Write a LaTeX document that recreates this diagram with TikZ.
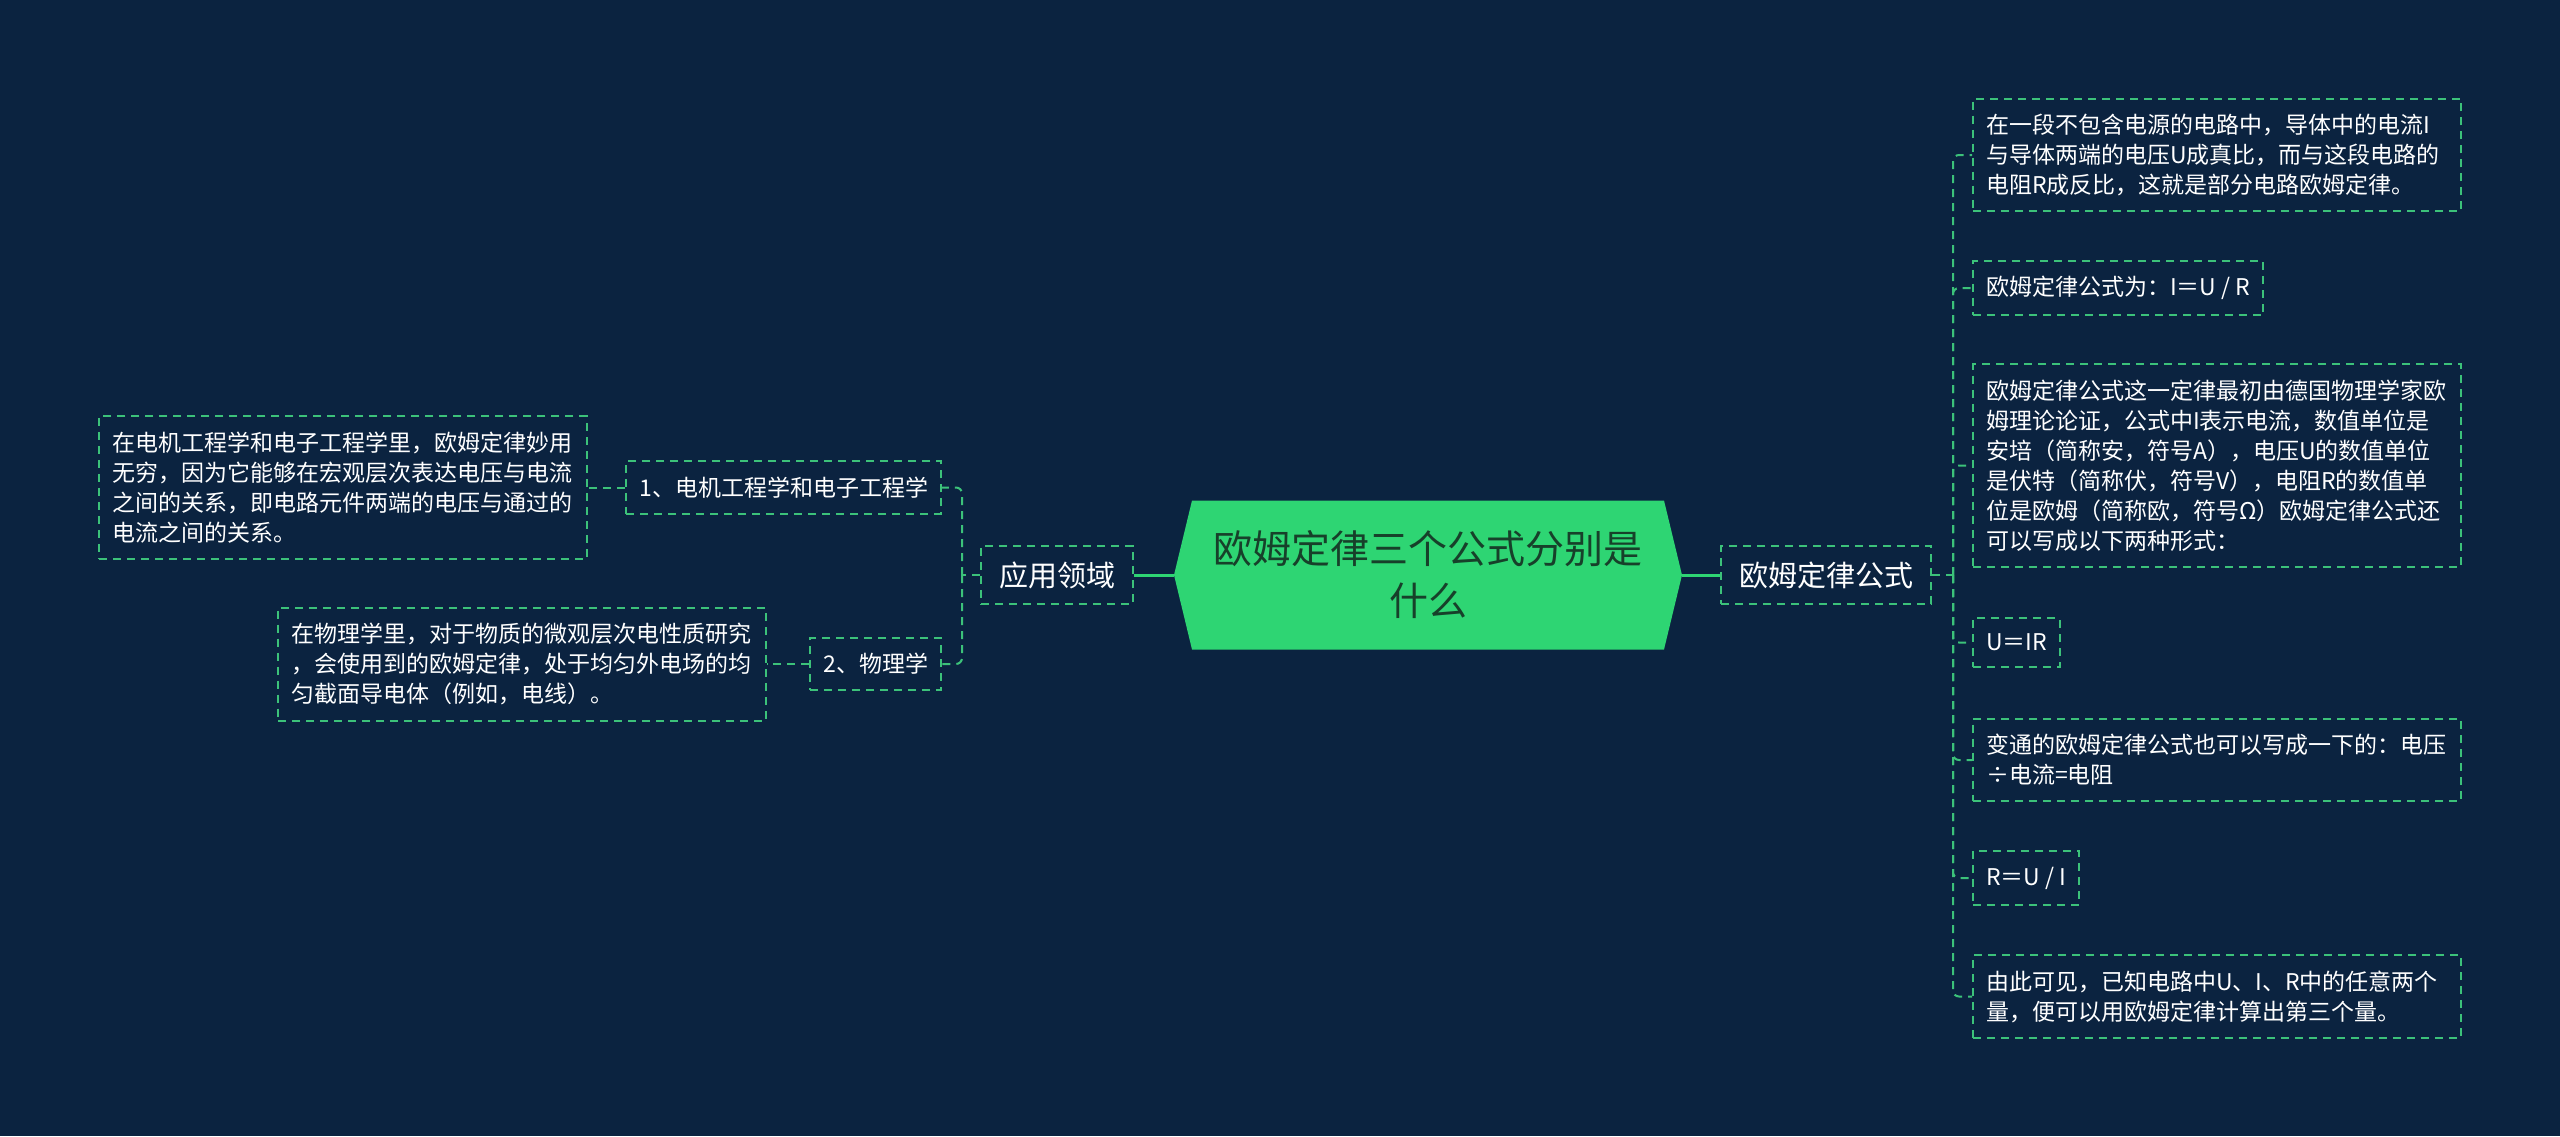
\documentclass[tikz,border=0pt]{standalone}
\usepackage{fontspec}
\setmainfont{Noto Sans CJK SC}
\usetikzlibrary{calc}

\definecolor{bgnavy}{HTML}{0B2340}
\definecolor{leafgreen}{HTML}{3CC27A}
\definecolor{rootgreen}{HTML}{2ED573}
\definecolor{rootink}{HTML}{17402A}

\tikzset{
  box/.style={draw=leafgreen, line width=2pt, dash pattern=on 8pt off 6pt, text=white,
    inner xsep=13pt, inner ysep=15.5pt, font=\fontsize{23}{30}\selectfont},
  para/.style={box, text width=462pt, align=left},
  hub/.style={box, inner xsep=18pt, font=\fontsize{29}{36}\selectfont},
  link/.style={leafgreen, line width=2pt, dash pattern=on 8pt off 6pt, rounded corners=6pt},
  trunk/.style={rootgreen, line width=3pt},
}

\begin{document}
\begin{tikzpicture}[x=1pt, y=-1pt]
    \fill[bgnavy] (0,0) rectangle (2560,1136);
    \useasboundingbox (0,0) rectangle (2560,1136);

    % centre
    \coordinate (c) at (1428,575);
    \fill[rootgreen] (c) ++(-254,0) -- ++(18,-74.5) -- ++(472,0) -- ++(18,74.5)
      -- ++(-18,74.5) -- ++(-472,0) -- cycle;
    \node[text=rootink, align=center, minimum width=508pt, minimum height=149pt,
      font=\fontsize{39}{52}\selectfont] (root) at (c) {欧姆定律三个公式分别是\\什么};

    % hubs
    \node[hub] (hubR) at (1826,575) {欧姆定律公式};
    \node[hub] (hubL) at (1057,575) {应用领域};
    \draw[trunk] (root.east) -- (hubR.west);
    \draw[trunk] (root.west) -- (hubL.east);

    % right side
    \node[para, anchor=west] (r1) at (1972,155) {在一段不包含电源的电路中，导体中的电流I\\与导体两端的电压U成真比，而与这段电路的\\电阻R成反比，这就是部分电路欧姆定律。};
    \node[box, anchor=west] (r2) at (1972,288) {欧姆定律公式为：I＝U / R};
    \node[para, anchor=west] (r3) at (1972,465.5) {欧姆定律公式这一定律最初由德国物理学家欧\\姆理论论证，公式中I表示电流，数值单位是\\安培（简称安，符号A），电压U的数值单位\\是伏特（简称伏，符号V），电阻R的数值单\\位是欧姆（简称欧，符号Ω）欧姆定律公式还\\可以写成以下两种形式：};
    \node[box, anchor=west] (r4) at (1972,642.5) {U＝IR};
    \node[para, anchor=west] (r5) at (1972,760) {变通的欧姆定律公式也可以写成一下的：电压\\÷电流=电阻};
    \node[box, anchor=west] (r6) at (1972,878) {R＝U / I};
    \node[para, anchor=west] (r7) at (1972,996.5) {由此可见，已知电路中U、I、R中的任意两个\\量，便可以用欧姆定律计算出第三个量。};

    \coordinate (rs) at (1953,575);
    \draw[link] (hubR.east) -- (rs);
    \foreach \n in {r1,r2,r3,r4,r5,r6,r7}
      \draw[link] (rs) |- (\n.west);

    % left side
    \node[box, anchor=east] (l1) at (942,487.5) {1、电机工程学和电子工程学};
    \node[box, anchor=east] (l2) at (942,664) {2、物理学};
    \node[para, anchor=east] (leaf1) at (588,487.5) {在电机工程学和电子工程学里，欧姆定律妙用\\无穷，因为它能够在宏观层次表达电压与电流\\之间的关系，即电路元件两端的电压与通过的\\电流之间的关系。};
    \node[para, anchor=east] (leaf2) at (767,664) {在物理学里，对于物质的微观层次电性质研究\\，会使用到的欧姆定律，处于均匀外电场的均\\匀截面导电体（例如，电线）。};

    \coordinate (ls) at (962,575);
    \draw[link] (hubL.west) -- (ls);
    \draw[link] (ls) |- (l1.east);
    \draw[link] (ls) |- (l2.east);
    \draw[link] (l1.west) -- (leaf1.east);
    \draw[link] (l2.west) -- (leaf2.east);
\end{tikzpicture}
\end{document}
